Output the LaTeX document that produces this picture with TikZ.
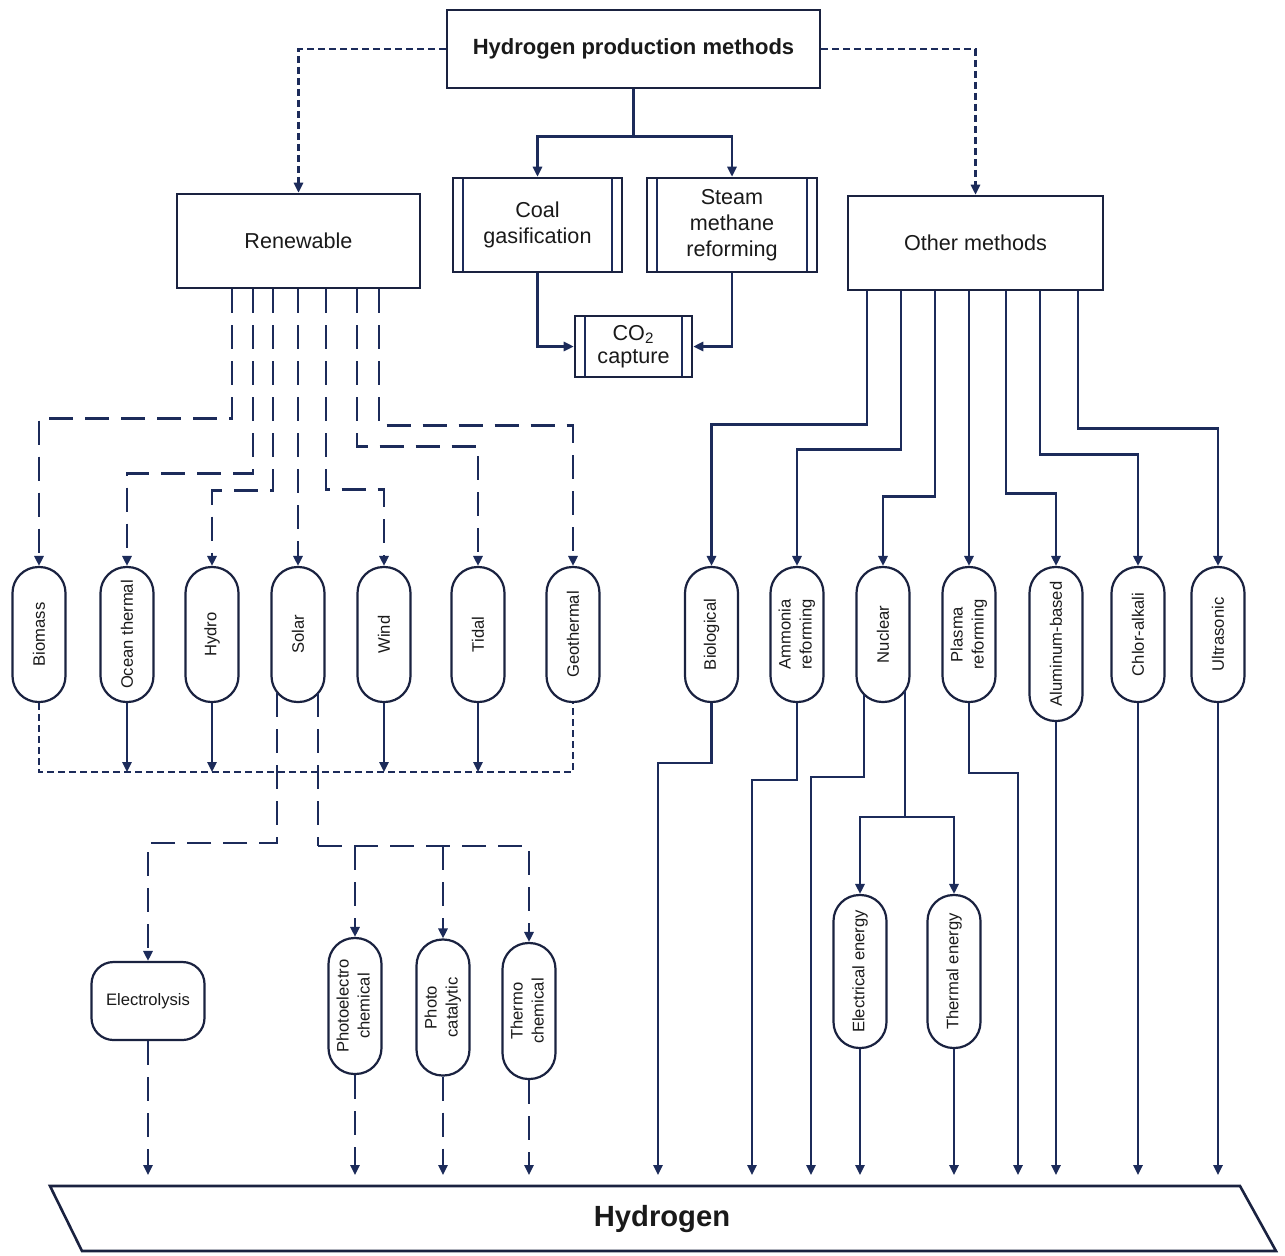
\documentclass[tikz,border=0pt]{standalone}
\usepackage{fontspec}
\usepackage{graphicx}
\setmainfont{Liberation Sans}
\usetikzlibrary{arrows.meta,calc}
\definecolor{navy}{HTML}{1C2B5A}
\definecolor{boxc}{HTML}{1A2240}
\definecolor{ink}{HTML}{1A1A1A}
\begin{document}
\begin{tikzpicture}[x=0.5pt,y=-0.5pt,
  lnk/.style={draw=navy, line width=1.2pt},
  arr/.style={-{Triangle[length=5pt,width=4.6pt]}},
  dsh/.style={dash pattern=on 12pt off 6pt},
  dts/.style={dash pattern=on 3.5pt off 2pt},
  mybox/.style={draw=boxc, line width=1.3pt, fill=white, align=center, text=ink, inner sep=2pt, font=\fontsize{10.8}{13}\selectfont},
  pbox/.style={mybox, path picture={
     \draw[navy, line width=1.2pt] ([xshift=5pt]path picture bounding box.south west) -- ([xshift=5pt]path picture bounding box.north west);
     \draw[navy, line width=1.2pt] ([xshift=-5pt]path picture bounding box.south east) -- ([xshift=-5pt]path picture bounding box.north east);}},
  capsule/.style={draw=boxc, line width=1.1pt, fill=white, rounded corners=13pt, minimum width=26.5pt, minimum height=67.5pt, inner sep=0pt, text=ink, font=\fontsize{8.3}{10.5}\selectfont},
]
\useasboundingbox (0,0) rectangle (1285,1255);
\fill[white] (0,0) rectangle (1285,1255);

% ---------- top level ----------
\node[mybox, font=\fontsize{11}{13}\selectfont\bfseries, minimum width=186.5pt, minimum height=39pt] (top) at (633.5,49) {Hydrogen production methods};
\node[mybox, minimum width=121.5pt, minimum height=47pt] (ren) at (298.5,241) {Renewable};
\node[pbox, minimum width=84.5pt, minimum height=47pt] (coal) at (537.5,225) {Coal\\gasification};
\node[pbox, minimum width=85pt, minimum height=47pt] (steam) at (732,225) {Steam\\methane\\reforming};
\node[pbox, font=\fontsize{10.8}{11.5}\selectfont, minimum width=58.5pt, minimum height=30.5pt] (co2) at (633.5,346.5) {CO\textsubscript{2}\\capture};
\node[mybox, minimum width=127.5pt, minimum height=47pt] (other) at (975.5,243) {Other methods};

% ---------- renewable capsules ----------
\node[capsule] (bio) at (39,634.5) {\rotatebox{90}{Biomass}};
\node[capsule] (oce) at (127,634.5) {\rotatebox{90}{Ocean thermal}};
\node[capsule] (hdr) at (212,634.5) {\rotatebox{90}{Hydro}};
\node[capsule] (sol) at (298,634.5) {\rotatebox{90}{Solar}};
\node[capsule] (win) at (384,634.5) {\rotatebox{90}{Wind}};
\node[capsule] (tid) at (478,634.5) {\rotatebox{90}{Tidal}};
\node[capsule] (geo) at (573,634.5) {\rotatebox{90}{Geothermal}};

% ---------- other capsules ----------
\node[capsule] (biol) at (711.5,634.5) {\rotatebox{90}{Biological}};
\node[capsule] (amm) at (797,634.5) {\rotatebox{90}{\begin{tabular}{@{}c@{}}Ammonia\\reforming\end{tabular}}};
\node[capsule] (nuc) at (883,634.5) {\rotatebox{90}{Nuclear}};
\node[capsule] (pla) at (969,634.5) {\rotatebox{90}{\begin{tabular}{@{}c@{}}Plasma\\reforming\end{tabular}}};
\node[capsule, minimum height=77pt] (alu) at (1056,644) {\rotatebox{90}{Aluminum-based}};
\node[capsule] (chl) at (1138,634.5) {\rotatebox{90}{Chlor-alkali}};
\node[capsule] (ult) at (1218,634.5) {\rotatebox{90}{Ultrasonic}};

% ---------- solar sub-methods ----------
\node[capsule, rounded corners=11pt, minimum width=56.5pt, minimum height=39pt] (ely) at (148,1001) {Electrolysis};
\node[capsule, minimum height=68pt] (pec) at (355,1006) {\rotatebox{90}{\begin{tabular}{@{}c@{}}Photoelectro\\chemical\end{tabular}}};
\node[capsule, minimum height=68pt] (pcat) at (443,1007.5) {\rotatebox{90}{\begin{tabular}{@{}c@{}}Photo\\catalytic\end{tabular}}};
\node[capsule, minimum height=68pt] (thc) at (529,1011) {\rotatebox{90}{\begin{tabular}{@{}c@{}}Thermo\\chemical\end{tabular}}};

% ---------- nuclear sub-methods ----------
\node[capsule, minimum height=76.5pt] (ele) at (860,971.5) {\rotatebox{90}{Electrical energy}};
\node[capsule, minimum height=76.5pt] (the) at (954,971.5) {\rotatebox{90}{Thermal energy}};

% ---------- hydrogen ----------
\draw[draw=boxc, line width=1.3pt, fill=white] (50,1186) -- (1240,1186) -- (1276,1251) -- (82,1251) -- cycle;
\node[text=ink, font=\fontsize{14.6}{17}\selectfont\bfseries] (h2) at (662,1219) {Hydrogen};

\coordinate (hin) at (0,1175);
\coordinate (bus) at (0,772);
\coordinate (eBio) at (658,1175);
\coordinate (eAmm) at (752,1175);
\coordinate (eNuc) at (811,1175);
\coordinate (ePla) at (1018,1175);

% ---------- top connectors ----------
\draw[lnk,dts,arr] (top.west) -| (ren.north);
\draw[lnk,dts,arr] (top.east) -| (other.north);
\draw[lnk] (top.south) -- ++(0,47) coordinate (tj);
\draw[lnk,arr] (tj) -| (coal.north);
\draw[lnk,arr] (tj) -| (steam.north);
\draw[lnk,arr] (coal.south) |- (co2.west);
\draw[lnk,arr] (steam.south) |- (co2.east);

% ---------- renewable connectors ----------
\draw[lnk,dsh,arr] ([xshift=28pt]ren.south west) -- ++(0,129) -| (bio.north);
\draw[lnk,dsh,arr] ([xshift=38.5pt]ren.south west) -- ++(0,184) -| (oce.north);
\draw[lnk,dsh,arr] ([xshift=48.5pt]ren.south west) -- ++(0,201) -| (hdr.north);
\draw[lnk,dsh,arr] (ren.south -| sol.north) -- (sol.north);
\draw[lnk,dsh,arr] ([xshift=75pt]ren.south west) -- ++(0,200) -| (win.north);
\draw[lnk,dsh,arr] ([xshift=90.5pt]ren.south west) -- ++(0,157) -| (tid.north);
\draw[lnk,dsh,arr] ([xshift=101.5pt]ren.south west) -- ++(0,136) -| (geo.north);

\draw[lnk,dts] (bio.south) -- (bio.south |- bus) -- (geo.south |- bus) -- (geo.south);
\foreach \n in {oce,hdr,win,tid} \draw[lnk,arr] (\n.south) -- (\n.south |- bus);

% ---------- solar branches ----------
\draw[lnk,dsh,arr] ([xshift=-10.5pt,yshift=5pt]sol.south) -- ++(0,150) -| (ely.north);
\draw[lnk,dsh] ([xshift=10pt,yshift=5pt]sol.south) -- ++(0,153) coordinate (sj);
\draw[lnk,dsh,arr] (sj) -| (thc.north);
\draw[lnk,dsh,arr] (pec.north |- sj) -- (pec.north);
\draw[lnk,dsh,arr] (pcat.north |- sj) -- (pcat.north);
\foreach \n in {ely,pec,pcat,thc} \draw[lnk,dsh,arr] (\n.south) -- (\n.south |- hin);

% ---------- other methods connectors ----------
\draw[lnk,arr] ([xshift=10pt]other.south west) -- ++(0,133) -| (biol.north);
\draw[lnk,arr] ([xshift=27pt]other.south west) -- ++(0,158) -| (amm.north);
\draw[lnk,arr] ([xshift=44pt]other.south west) -- ++(0,205) -| (nuc.north);
\draw[lnk,arr] (other.south -| pla.north) -- (pla.north);
\draw[lnk,arr] ([xshift=79.5pt]other.south west) -- ++(0,202) -| (alu.north);
\draw[lnk,arr] ([xshift=96.5pt]other.south west) -- ++(0,163) -| (chl.north);
\draw[lnk,arr] ([xshift=115.5pt]other.south west) -- ++(0,137) -| (ult.north);

\draw[lnk,arr] (biol.south) -- ++(0,60) -| (eBio);
\draw[lnk,arr] (amm.south) -- ++(0,77) -| (eAmm);
\draw[lnk,arr] ([xshift=-9.5pt,yshift=4pt]nuc.south) -- ++(0,82) -| (eNuc);
\draw[lnk] ([xshift=11pt,yshift=6pt]nuc.south) -- ++(0,126) coordinate (nj);
\draw[lnk,arr] (nj) -| (ele.north);
\draw[lnk,arr] (nj) -| (the.north);
\draw[lnk,arr] (pla.south) -- ++(0,70) -| (ePla);
\foreach \n in {ele,the,alu,chl,ult} \draw[lnk,arr] (\n.south) -- (\n.south |- hin);
\end{tikzpicture}
\end{document}
